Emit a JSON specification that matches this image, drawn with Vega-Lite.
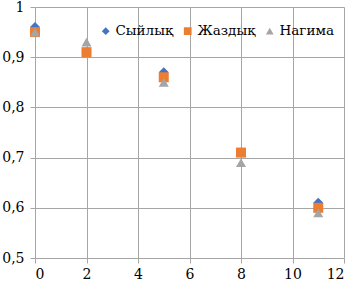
{
  "$schema": "https://vega.github.io/schema/vega-lite/v6.json",
  "width": 309,
  "height": 251,
  "autosize": {"type": "none"},
  "padding": {"left": 35, "top": 7, "right": 8, "bottom": 26},
  "background": "white",
  "config": {
    "view": {"stroke": null},
    "font": "DejaVu Serif"
  },
  "data": {
    "values": [
      {"x": 0, "y": 0.96, "s": "Сыйлық"},
      {"x": 2, "y": 0.91, "s": "Сыйлық"},
      {"x": 5, "y": 0.87, "s": "Сыйлық"},
      {"x": 8, "y": 0.71, "s": "Сыйлық"},
      {"x": 11, "y": 0.61, "s": "Сыйлық"},
      {"x": 0, "y": 0.95, "s": "Жаздық"},
      {"x": 2, "y": 0.91, "s": "Жаздық"},
      {"x": 5, "y": 0.86, "s": "Жаздық"},
      {"x": 8, "y": 0.71, "s": "Жаздық"},
      {"x": 11, "y": 0.60, "s": "Жаздық"},
      {"x": 0, "y": 0.95, "s": "Нагима"},
      {"x": 2, "y": 0.93, "s": "Нагима"},
      {"x": 5, "y": 0.85, "s": "Нагима"},
      {"x": 8, "y": 0.69, "s": "Нагима"},
      {"x": 11, "y": 0.59, "s": "Нагима"}
    ]
  },
  "mark": {"type": "point", "filled": true, "opacity": 1, "size": 100},
  "encoding": {
    "x": {
      "field": "x", "type": "quantitative",
      "scale": {"domain": [0, 12], "nice": false, "zero": false},
      "axis": {
        "title": null, "values": [0, 2, 4, 6, 8, 10, 12],
        "grid": true, "gridColor": "#a6a6a6", "gridWidth": 1,
        "domain": false, "ticks": true, "tickColor": "#a6a6a6", "tickSize": 5,
        "labelFont": "DejaVu Serif", "labelFontSize": 14, "labelColor": "#000",
        "labelPadding": 4
      }
    },
    "y": {
      "field": "y", "type": "quantitative",
      "scale": {"domain": [0.5, 1], "nice": false, "zero": false},
      "axis": {
        "title": null, "values": [0.5, 0.6, 0.7, 0.8, 0.9, 1],
        "grid": true, "gridColor": "#a6a6a6", "gridWidth": 1,
        "domain": false, "ticks": true, "tickColor": "#a6a6a6", "tickSize": 5,
        "labelFont": "DejaVu Serif", "labelFontSize": 14, "labelColor": "#000",
        "labelPadding": 6,
        "labelExpr": "datum.value == 1 ? '1' : replace(format(datum.value, '.1f'), '.', ',')"
      }
    },
    "color": {
      "field": "s", "type": "nominal",
      "scale": {"domain": ["Сыйлық", "Жаздық", "Нагима"], "range": ["#4472c4", "#ed7d31", "#a5a5a5"]},
      "legend": {
        "title": null, "orient": "none", "legendX": 64, "legendY": 17,
        "direction": "horizontal",
        "labelFont": "DejaVu Serif", "labelFontSize": 13.5, "labelColor": "#000",
        "symbolSize": 60, "columnPadding": 7, "labelOffset": 3
      }
    },
    "shape": {
      "field": "s", "type": "nominal",
      "scale": {"domain": ["Сыйлық", "Жаздық", "Нагима"], "range": ["diamond", "square", "triangle-up"]}
    },
    "order": {"field": "x"}
  }
}
